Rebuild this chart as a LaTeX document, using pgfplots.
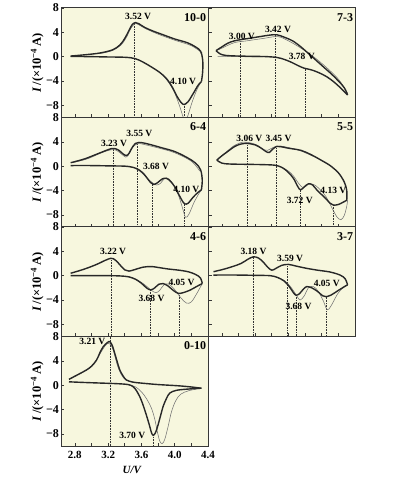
\documentclass[border=0pt]{standalone}
\usepackage{fontspec}
\setmainfont{Liberation Serif}
\usepackage{pgfplots}
\pgfplotsset{compat=1.18}
\definecolor{bgpanel}{RGB}{247,247,222}
\definecolor{curvedark}{RGB}{40,40,40}
\definecolor{curvelight}{RGB}{115,115,115}
\definecolor{framecol}{RGB}{55,55,55}
\tikzset{
  plabel/.style={font=\fontsize{9.5}{9.5}\selectfont\bfseries, inner sep=0pt},
  ptitle/.style={font=\fontsize{12}{12}\selectfont\bfseries, anchor=north east, inner sep=0pt},
}
\pgfplotsset{
  cvpanel/.style={
    scale only axis, width=147pt, height=109.5pt,
    xmin=2.64, xmax=4.405, ymin=-10, ymax=8,
    axis background/.style={fill=bgpanel},
    axis line style={framecol, line width=1pt},
    xtick={2.8,3.2,3.6,4.0,4.4}, minor xtick={3.0,3.4,3.8,4.2},
    ytick={-8,-4,0,4,8},
    xtick pos=bottom, ytick pos=left, tick align=inside,
    major tick length=3pt, minor tick length=3pt,
    tick style={framecol, line width=0.6pt},
    xticklabels={}, yticklabels={},
  },
  leftpanel/.style={
    yticklabels={−8,−4,0,4,8},
    yticklabel style={font=\fontsize{12}{12}\selectfont\bfseries, xshift=1pt},
    ylabel={\textbf{\textit{I}\,/(×10\textsuperscript{−4}\,A)}},
    every axis y label/.style={at={(axis description cs:-0.165,0.5)}, rotate=90, anchor=center, font=\fontsize{12.5}{12.5}\selectfont},
  },
  main/.style={curvedark, line width=1.4pt, smooth, tension=0.55, mark=none},
  light/.style={curvelight, line width=0.55pt, smooth, tension=0.55, mark=none},
  peakline/.style={black!80, densely dotted, line width=0.6pt, mark=none},
}
\begin{document}
\begin{tikzpicture}
\useasboundingbox (0,0) rectangle (394pt,477pt);

% ---------------- 10-0 ----------------
\begin{axis}[cvpanel, leftpanel, at={(61.5pt,359.5pt)}, anchor=south west]
\addplot[peakline] coordinates {(3.52,5.6) (3.52,-10)};
\addplot[peakline] coordinates {(4.11,-7.8) (4.11,-10)};
\addplot[light] coordinates {(3.85,-2.9) (3.93,-4.3) (4.0,-6.0) (4.06,-8.2) (4.1,-9.9) (4.13,-10.6) (4.16,-9.6) (4.21,-7.4) (4.27,-5.3) (4.32,-4.1)};
\addplot[light] coordinates {(4.33,0.6) (4.2,1.8) (4.0,2.7) (3.8,3.7) (3.65,4.6) (3.56,5.3) (3.52,5.4) (3.47,4.6) (3.42,3.2) (3.36,2.0) (3.25,1.0) (3.1,0.5)};
\addplot[main] coordinates {(2.75,0.05) (3.0,0.0) (3.2,-0.05) (3.4,-0.1) (3.52,-0.3) (3.62,-0.9) (3.72,-1.7) (3.82,-2.6) (3.9,-3.6) (3.97,-5.0) (4.03,-6.6) (4.08,-7.6) (4.115,-7.85) (4.16,-7.4) (4.22,-6.1) (4.28,-4.7) (4.32,-4.1)};
\addplot[main] coordinates {(4.32,-4.1) (4.335,-2.5) (4.335,-0.5) (4.31,0.9) (4.25,1.6) (4.15,2.3) (4.0,2.9) (3.86,3.6) (3.74,4.2) (3.64,4.8) (3.57,5.4) (3.53,5.6) (3.49,5.3) (3.45,4.3) (3.4,3.0) (3.34,1.9) (3.25,1.1) (3.1,0.6) (2.95,0.35) (2.75,0.1)};
\node[plabel] at (axis cs:3.56,6.6) {3.52 V};
\node[plabel] at (axis cs:4.10,-4.0) {4.10 V};
\node[ptitle] at (rel axis cs:0.985,0.955) {10-0};
\end{axis}

% ---------------- 7-3 ----------------
\begin{axis}[cvpanel, at={(208.5pt,359.5pt)}, anchor=south west]
\addplot[peakline] coordinates {(3.02,2.85) (3.02,-10)};
\addplot[peakline] coordinates {(3.44,3.6) (3.44,-10)};
\addplot[peakline] coordinates {(3.80,-2.0) (3.80,-10)};
\addplot[light] coordinates {(2.75,0.0) (3.0,0.0) (3.3,-0.05)};
\addplot[light] coordinates {(4.31,-6.0) (4.2,-3.7) (4.05,-1.7) (3.9,0.0) (3.75,1.4) (3.6,2.6) (3.47,3.3) (3.3,3.0) (3.1,2.6) (2.95,2.3) (2.8,1.4) (2.73,0.95)};
\addplot[main] coordinates {(2.73,1.0) (2.78,0.45) (2.85,0.2) (3.0,0.1) (3.2,0.05) (3.35,0.0) (3.47,-0.15) (3.56,-0.5) (3.64,-0.95) (3.72,-1.5) (3.79,-1.9) (3.87,-2.15) (3.96,-2.6) (4.06,-3.3) (4.15,-4.2) (4.23,-5.2) (4.28,-5.9) (4.31,-6.3)};
\addplot[main] coordinates {(4.31,-6.3) (4.27,-5.1) (4.2,-4.0) (4.12,-2.9) (4.03,-1.8) (3.94,-0.7) (3.85,0.4) (3.75,1.6) (3.65,2.6) (3.55,3.2) (3.46,3.6) (3.38,3.55) (3.28,3.35) (3.17,3.1) (3.05,2.85) (2.95,2.6) (2.87,2.2) (2.8,1.6) (2.73,1.0)};
\node[plabel] at (axis cs:3.04,3.4) {3.00 V};
\node[plabel] at (axis cs:3.475,4.5) {3.42 V};
\node[plabel] at (axis cs:3.76,0.0) {3.78 V};
\node[ptitle] at (rel axis cs:0.985,0.955) {7-3};
\end{axis}

% ---------------- 6-4 ----------------
\begin{axis}[cvpanel, leftpanel, at={(61.5pt,250pt)}, anchor=south west]
\addplot[peakline] coordinates {(3.26,2.9) (3.26,-10)};
\addplot[peakline] coordinates {(3.55,3.9) (3.55,-10)};
\addplot[peakline] coordinates {(3.725,-2.9) (3.725,-10)};
\addplot[peakline] coordinates {(4.115,-6.2) (4.115,-10)};
\addplot[light] coordinates {(3.5,-0.2) (3.58,-0.8) (3.65,-1.7) (3.72,-2.6) (3.78,-3.1) (3.83,-2.8) (3.88,-2.0) (3.93,-2.1) (3.99,-3.2) (4.05,-5.0) (4.1,-7.2) (4.13,-8.4) (4.17,-7.9) (4.23,-6.0) (4.29,-4.5) (4.32,-3.9)};
\addplot[light] coordinates {(4.3,-0.8) (4.2,0.8) (4.0,2.2) (3.8,3.0) (3.62,3.6) (3.56,3.7) (3.5,3.2) (3.44,1.8) (3.41,1.5) (3.36,2.0) (3.3,2.6) (3.24,2.7) (3.12,2.2) (2.95,1.2) (2.78,0.6)};
\addplot[main] coordinates {(2.75,0.1) (3.0,0.1) (3.2,0.05) (3.4,0.0) (3.5,-0.2) (3.57,-0.6) (3.63,-1.3) (3.67,-2.0) (3.71,-2.7) (3.745,-3.0) (3.79,-2.75) (3.85,-2.1) (3.9,-2.0) (3.95,-2.5) (4.0,-3.4) (4.05,-4.7) (4.09,-5.7) (4.12,-6.2) (4.16,-6.1) (4.22,-5.1) (4.28,-4.3) (4.32,-3.9)};
\addplot[main] coordinates {(4.32,-3.9) (4.33,-2.3) (4.31,-0.6) (4.25,0.5) (4.15,1.4) (4.0,2.4) (3.85,3.0) (3.72,3.5) (3.63,3.8) (3.57,3.9) (3.53,3.75) (3.49,3.1) (3.45,2.1) (3.42,1.75) (3.38,2.0) (3.33,2.6) (3.28,2.9) (3.24,2.9) (3.16,2.5) (3.05,1.9) (2.93,1.25) (2.83,0.85) (2.75,0.57)};
\node[plabel] at (axis cs:3.27,3.75) {3.23 V};
\node[plabel] at (axis cs:3.575,5.3) {3.55 V};
\node[plabel] at (axis cs:3.775,-0.1) {3.68 V};
\node[plabel] at (axis cs:4.14,-3.8) {4.10 V};
\node[ptitle] at (rel axis cs:0.985,0.955) {6-4};
\end{axis}

% ---------------- 5-5 ----------------
\begin{axis}[cvpanel, at={(208.5pt,250pt)}, anchor=south west]
\addplot[peakline] coordinates {(3.10,3.75) (3.10,-10)};
\addplot[peakline] coordinates {(3.46,3.25) (3.46,-10)};
\addplot[peakline] coordinates {(3.745,-3.9) (3.745,-10)};
\addplot[peakline] coordinates {(4.14,-6.4) (4.14,-10)};
\addplot[light] coordinates {(3.52,-0.2) (3.59,-0.7) (3.66,-1.6) (3.72,-2.8) (3.77,-3.5) (3.81,-3.3) (3.84,-2.9) (3.9,-3.0) (3.97,-3.7) (4.05,-5.0) (4.12,-6.8) (4.18,-8.3) (4.23,-8.8) (4.27,-8.1) (4.3,-6.6) (4.31,-5.6)};
\addplot[light] coordinates {(2.74,1.05) (2.85,2.3) (2.95,3.4) (3.05,3.95) (3.12,3.9) (3.22,3.5) (3.3,2.7) (3.35,2.6) (3.42,3.1) (3.5,3.3) (3.62,3.0) (3.75,2.5) (3.9,1.6)};
\addplot[main] coordinates {(2.74,1.0) (2.8,0.5) (2.9,0.35) (3.1,0.3) (3.3,0.25) (3.44,0.15) (3.52,-0.2) (3.59,-0.9) (3.66,-2.0) (3.71,-3.3) (3.745,-3.9) (3.79,-3.4) (3.84,-2.9) (3.89,-3.1) (3.94,-3.9) (4.0,-4.7) (4.06,-5.5) (4.1,-6.1) (4.14,-6.4) (4.2,-6.3) (4.26,-5.9) (4.3,-5.6)};
\addplot[main] coordinates {(4.3,-5.6) (4.3,-4.0) (4.27,-2.6) (4.2,-1.1) (4.1,0.1) (3.99,1.0) (3.87,1.9) (3.75,2.6) (3.6,2.95) (3.51,3.2) (3.46,3.25) (3.41,2.8) (3.37,2.25) (3.33,2.4) (3.28,2.9) (3.2,3.5) (3.1,3.75) (3.02,3.6) (2.95,3.2) (2.87,2.4) (2.8,1.7) (2.74,1.0)};
\node[plabel] at (axis cs:3.13,4.6) {3.06 V};
\node[plabel] at (axis cs:3.48,4.6) {3.45 V};
\node[plabel] at (axis cs:3.735,-5.6) {3.72 V};
\node[plabel] at (axis cs:4.14,-4.0) {4.13 V};
\node[ptitle] at (rel axis cs:0.985,0.955) {5-5};
\end{axis}

% ---------------- 4-6 ----------------
\begin{axis}[cvpanel, leftpanel, at={(61.5pt,140.5pt)}, anchor=south west]
\addplot[peakline] coordinates {(3.235,2.85) (3.235,-10)};
\addplot[peakline] coordinates {(3.71,-2.35) (3.71,-10)};
\addplot[peakline] coordinates {(4.05,-2.9) (4.05,-10)};
\addplot[light] coordinates {(3.45,-0.2) (3.55,-0.7) (3.64,-1.5) (3.71,-2.3) (3.77,-2.8) (3.82,-2.4) (3.87,-1.5) (3.93,-1.4) (4.0,-2.3) (4.07,-3.6) (4.14,-4.5) (4.2,-4.3) (4.27,-2.8) (4.33,-1.3)};
\addplot[main] coordinates {(2.75,0.0) (3.0,0.0) (3.2,0.0) (3.35,-0.05) (3.45,-0.2) (3.53,-0.6) (3.6,-1.25) (3.66,-2.0) (3.71,-2.35) (3.76,-2.0) (3.81,-1.4) (3.86,-1.3) (3.92,-1.7) (3.98,-2.4) (4.04,-2.9) (4.1,-2.8) (4.18,-2.4) (4.26,-1.8) (4.33,-1.3)};
\addplot[main] coordinates {(4.33,-1.3) (4.31,-0.4) (4.25,0.2) (4.16,0.65) (4.05,0.9) (3.92,1.1) (3.8,1.35) (3.72,1.5) (3.62,1.4) (3.52,1.0) (3.45,0.75) (3.4,0.95) (3.35,1.65) (3.3,2.4) (3.26,2.8) (3.23,2.85) (3.17,2.55) (3.07,1.9) (2.96,1.3) (2.85,0.8) (2.75,0.4)};
\node[plabel] at (axis cs:3.26,3.95) {3.22 V};
\node[plabel] at (axis cs:3.72,-3.8) {3.68 V};
\node[plabel] at (axis cs:4.08,-1.1) {4.05 V};
\node[ptitle] at (rel axis cs:0.985,0.955) {4-6};
\end{axis}

% ---------------- 3-7 ----------------
\begin{axis}[cvpanel, at={(208.5pt,140.5pt)}, anchor=south west]
\addplot[peakline] coordinates {(3.175,3.1) (3.175,-10)};
\addplot[peakline] coordinates {(3.585,1.85) (3.585,-10)};
\addplot[peakline] coordinates {(3.69,-3.2) (3.69,-10)};
\addplot[peakline] coordinates {(4.05,-3.45) (4.05,-10)};
\addplot[light] coordinates {(3.47,-0.3) (3.56,-0.9) (3.63,-1.9) (3.69,-3.1) (3.74,-4.0) (3.79,-3.3) (3.84,-2.0) (3.9,-1.8) (3.96,-2.6) (4.02,-4.2) (4.065,-5.6) (4.11,-5.0) (4.19,-3.0) (4.26,-1.9) (4.31,-1.5)};
\addplot[main] coordinates {(2.7,0.1) (3.0,0.1) (3.2,0.05) (3.38,0.0) (3.47,-0.3) (3.55,-0.9) (3.61,-1.8) (3.66,-2.8) (3.69,-3.2) (3.73,-3.0) (3.78,-2.2) (3.82,-1.8) (3.88,-2.0) (3.95,-2.6) (4.01,-3.3) (4.05,-3.45) (4.11,-3.2) (4.19,-2.5) (4.26,-1.9) (4.31,-1.5)};
\addplot[main] coordinates {(4.31,-1.5) (4.28,-0.5) (4.22,0.1) (4.1,0.6) (3.95,0.9) (3.82,1.2) (3.7,1.55) (3.6,1.85) (3.52,1.7) (3.45,1.2) (3.4,0.9) (3.35,1.4) (3.3,2.2) (3.24,2.9) (3.18,3.1) (3.12,2.75) (3.03,2.0) (2.93,1.5) (2.82,1.05) (2.7,0.65)};
\node[plabel] at (axis cs:3.18,4.05) {3.18 V};
\node[plabel] at (axis cs:3.62,2.85) {3.59 V};
\node[plabel] at (axis cs:3.72,-5.0) {3.68 V};
\node[plabel] at (axis cs:4.06,-1.2) {4.05 V};
\node[ptitle] at (rel axis cs:0.985,0.955) {3-7};
\end{axis}

% ---------------- 0-10 ----------------
\begin{axis}[cvpanel, leftpanel, at={(61.5pt,31pt)}, anchor=south west,
  xticklabels={2.8,3.2,3.6,4.0,4.4},
  xticklabel style={font=\fontsize{11}{11}\selectfont\bfseries, yshift=-2pt},
  xlabel={U/V},
  every axis x label/.style={at={(axis description cs:0.478,-0.22)}, anchor=center, font=\fontsize{11}{11}\selectfont\bfseries\itshape}]
\addplot[peakline] coordinates {(3.22,8) (3.22,-10)};
\addplot[peakline] coordinates {(3.74,-8.25) (3.74,-10)};
\addplot[light] coordinates {(3.44,0.1) (3.53,-0.3) (3.6,-1.1) (3.66,-2.2) (3.72,-3.8) (3.76,-5.6) (3.79,-7.6) (3.82,-9.2) (3.85,-9.6) (3.88,-8.9) (3.92,-6.8) (3.96,-4.4) (4.01,-2.6) (4.07,-1.5) (4.17,-0.9) (4.32,-0.5)};
\addplot[light] coordinates {(3.5,0.45) (3.41,0.9) (3.36,1.7) (3.32,2.9) (3.29,4.3) (3.26,5.8) (3.23,6.7) (3.2,6.9) (3.16,6.4) (3.1,5.1) (3.04,3.8) (2.96,2.7) (2.85,1.8) (2.73,1.0)};
\addplot[main] coordinates {(2.73,0.55) (2.9,0.45) (3.1,0.35) (3.3,0.25) (3.44,0.1) (3.5,-0.25) (3.54,-0.9) (3.58,-1.9) (3.61,-2.9) (3.64,-4.1) (3.67,-5.4) (3.70,-6.8) (3.72,-7.8) (3.74,-8.25) (3.765,-7.9) (3.785,-7.2) (3.80,-6.5) (3.83,-5.0) (3.86,-3.5) (3.9,-2.2) (3.94,-1.3) (4.02,-0.85) (4.15,-0.65) (4.32,-0.5)};
\addplot[main] coordinates {(4.32,-0.5) (4.2,-0.3) (4.04,-0.1) (3.8,0.1) (3.63,0.3) (3.5,0.5) (3.42,0.85) (3.38,1.5) (3.34,2.5) (3.31,3.8) (3.28,5.2) (3.25,6.5) (3.22,7.15) (3.19,7.0) (3.14,6.3) (3.1,5.3) (3.06,4.1) (3.0,3.1) (2.94,2.5) (2.86,1.9) (2.79,1.4) (2.73,0.95)};
\node[plabel] at (axis cs:3.01,7.15) {3.21 V};
\node[plabel] at (axis cs:3.49,-8.3) {3.70 V};
\node[ptitle] at (rel axis cs:0.985,0.955) {0-10};
\end{axis}
\end{tikzpicture}
\end{document}
